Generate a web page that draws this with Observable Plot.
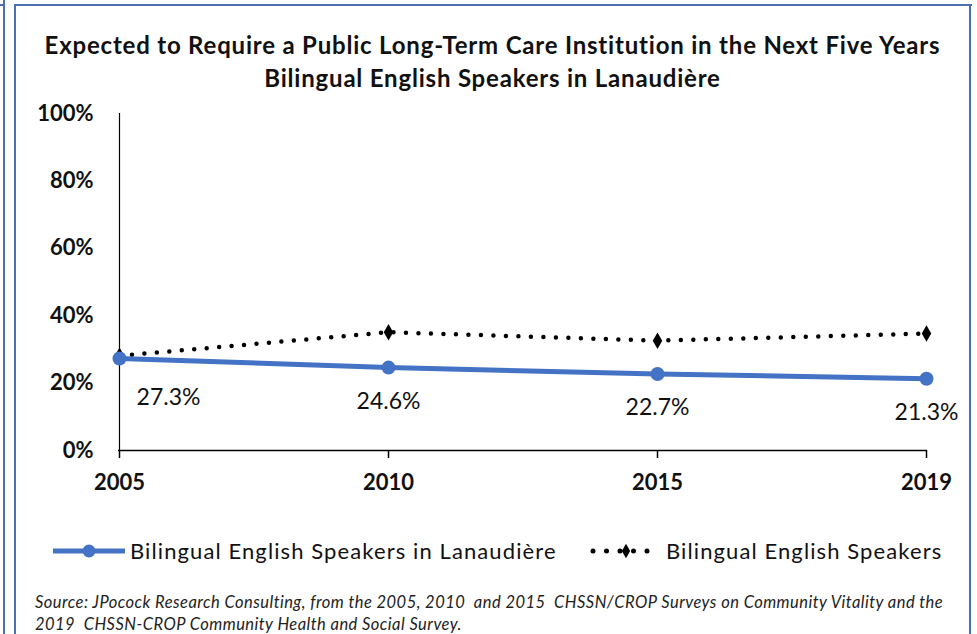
<!DOCTYPE html>
<html><head><meta charset="utf-8">
<script src="https://cdn.jsdelivr.net/npm/d3@7"></script>
<script src="https://cdn.jsdelivr.net/npm/@observablehq/plot@0.6"></script>
<style>
html,body{margin:0;padding:0;background:#fff;}
#page{position:relative;width:977px;height:634px;overflow:hidden;background:#fff;font-family:Lato, "DejaVu Sans", sans-serif;color:#111;}
.b{position:absolute;background:#4a6fb5;}
#title{position:absolute;left:15px;width:955px;top:28px;text-align:center;font-weight:bold;font-size:24px;letter-spacing:0.8px;line-height:33px;color:#111;white-space:nowrap;}
#chart{position:absolute;left:0;top:95px;}
.lg{position:absolute;top:538px;height:26px;line-height:26px;font-size:22px;letter-spacing:1.1px;color:#111;white-space:nowrap;}
#caption{position:absolute;left:35px;top:592px;font-style:italic;font-size:16.5px;letter-spacing:0.45px;line-height:21.5px;color:#222;white-space:pre;}
</style></head>
<body>
<div id="page">
  <div class="b" style="left:3px;top:0;width:2px;height:634px"></div>
  <div class="b" style="left:0;top:4px;width:5px;height:2px"></div>
  <div class="b" style="left:14px;top:4px;width:2px;height:630px"></div>
  <div class="b" style="left:14px;top:4px;width:958px;height:2px"></div>
  <div class="b" style="left:969px;top:4px;width:2px;height:630px"></div>
  <div id="title"></div>
  <div id="chart"></div>
  <div id="legend"></div>
  <div id="caption"></div>
</div>
<script>
const titleLines = ["Expected to Require a Public Long-Term Care Institution in the Next Five Years",
                    "Bilingual English Speakers in Lanaudière"];
const years = ["2005", "2010", "2015", "2019"];
const lanaudiere = [0.273, 0.246, 0.227, 0.213];
const bilingual = [0.281, 0.351, 0.326, 0.347];
const seriesNames = ["Bilingual English Speakers in Lanaudière", "Bilingual English Speakers"];
const yTicks = [0, 0.2, 0.4, 0.6, 0.8, 1];
const captionLines = ["Source: JPocock Research Consulting, from the 2005, 2010  and 2015  CHSSN/CROP Surveys on Community Vitality and the",
                      "2019  CHSSN-CROP Community Health and Social Survey."];

const blue = "#4472C4";
const rowsA = years.map((y, i) => ({year: y, value: lanaudiere[i]}));
const rowsB = years.map((y, i) => ({year: y, value: bilingual[i]}));
const pct1 = d3.format(".1%");

document.getElementById("title").innerHTML = titleLines.map(t => `<div>${t}</div>`).join("");
document.getElementById("caption").textContent = captionLines.join("\n");

const chart = Plot.plot({
  width: 977, height: 405,
  marginTop: 18, marginBottom: 50, marginLeft: 118, marginRight: 50,
  style: {fontFamily: "Lato, sans-serif", fontSize: "20px", color: "#111", background: "transparent", overflow: "visible"},
  x: {type: "point", domain: years, padding: 0, label: null},
  y: {domain: [0, 1], label: null},
  marks: [
    Plot.axisY({ticks: yTicks, tickFormat: d3.format(".0%"), tickSize: 0, tickPadding: 25, fontWeight: "bold", fontSize: 22}),
    Plot.axisX({tickSize: 8, tickPadding: 16, fontWeight: "bold", fontSize: 22, stroke: "#000", strokeWidth: 1.5}),
    Plot.ruleY([0], {stroke: "#000", strokeWidth: 1.5}),
    Plot.ruleX([years[0]], {y1: 0, y2: 1, stroke: "#000", strokeWidth: 1.2}),
    Plot.line(rowsB, {x: "year", y: "value", stroke: "#000", strokeWidth: 4.5, strokeDasharray: "0 12.5", strokeLinecap: "round"}),
    Plot.dot(rowsB, {x: "year", y: "value", symbol: "diamond", r: 5, fill: "#000", stroke: "none"}),
    Plot.line(rowsA, {x: "year", y: "value", stroke: blue, strokeWidth: 5}),
    Plot.dot(rowsA, {x: "year", y: "value", r: 7, fill: blue, stroke: "none"}),
    Plot.text(rowsA, {filter: (d, i) => i === 0, x: "year", y: "value", text: d => pct1(d.value), dx: 49, dy: 39, fontSize: 23, fill: "#111"}),
    Plot.text(rowsA, {filter: (d, i) => i > 0, x: "year", y: "value", text: d => pct1(d.value), dy: 34, fontSize: 23, fill: "#111"})
  ]
});
document.getElementById("chart").appendChild(chart);

const legend = document.getElementById("legend");
legend.innerHTML = `
  <svg class="lg" style="left:53px;top:541px" width="74" height="20">
    <line x1="0" y1="10" x2="72" y2="10" stroke="${blue}" stroke-width="5"/>
    <circle cx="36" cy="10" r="6.5" fill="${blue}"/>
  </svg>
  <div class="lg" style="left:130px">${seriesNames[0]}</div>
  <svg class="lg" style="left:590px;top:541px" width="72" height="20">
    <line x1="3" y1="10" x2="69" y2="10" stroke="#000" stroke-width="5" stroke-dasharray="0 13.5" stroke-linecap="round"/>
    <path d="${d3.symbol(d3.symbolDiamond, 60)()}" transform="translate(36,10)" fill="#000"/>
  </svg>
  <div class="lg" style="left:666px">${seriesNames[1]}</div>`;
</script>
</body></html>
